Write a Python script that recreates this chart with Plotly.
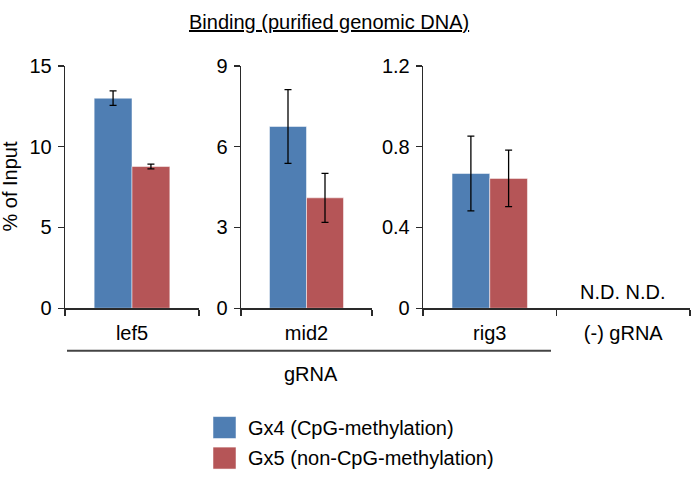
import plotly.graph_objects as go

# ---- data ----
targets = ["lef5", "mid2", "rig3", "(-) gRNA"]
panel_of = [0, 1, 2, 2]
gx4 = [13.0, 6.75, 0.667, None]
gx4_err = [0.45, 1.37, 0.185, None]
gx5 = [8.77, 4.10, 0.643, None]
gx5_err = [0.15, 0.91, 0.14, None]
y_max = [15, 9, 1.2]
y_dtick = [5, 3, 0.4]
series_names = ["Gx4 (CpG-methylation)", "Gx5 (non-CpG-methylation)"]
colors = ["#4f7eb3", "#b55557"]

W, H = 700, 481
FONT = "Liberation Sans, Arial, Helvetica, sans-serif"
AX = "#2a2a2a"

def px(x):
    return x / W

def py(y):
    return 1 - y / H

x_domains = [(65, 199), (241, 372), (423, 690)]
y_dom = [py(311.5), py(57.5)]

fig = go.Figure()
for p in range(3):
    cats = [t for t, q in zip(targets, panel_of) if q == p]
    idx = [i for i, q in enumerate(panel_of) if q == p]
    for s, (vals, errs) in enumerate([(gx4, gx4_err), (gx5, gx5_err)]):
        fig.add_trace(go.Bar(
            x=cats,
            y=[vals[i] for i in idx],
            error_y=dict(type="data", array=[errs[i] for i in idx],
                         color="black", thickness=1.3, width=3.5),
            marker=dict(color=colors[s], line=dict(color="rgba(255,255,255,0.5)", width=1)),
            name=series_names[s],
            showlegend=False,
            hoverinfo="skip",
            xaxis="x" if p == 0 else f"x{p+1}",
            yaxis="y" if p == 0 else f"y{p+1}",
        ))

layout = dict(
    width=W, height=H,
    margin=dict(l=0, r=0, t=0, b=0),
    paper_bgcolor="white", plot_bgcolor="white",
    barmode="group", bargap=0.435, bargroupgap=0,
    font=dict(family=FONT, size=20, color="black"),
    showlegend=False,
)
for p in range(3):
    sfx = "" if p == 0 else str(p + 1)
    cats = [t for t, q in zip(targets, panel_of) if q == p]
    layout["xaxis" + sfx] = dict(
        domain=[px(x_domains[p][0]), px(x_domains[p][1])],
        anchor="y" + sfx,
        type="category", categoryorder="array", categoryarray=cats,
        range=[-0.5, len(cats) - 0.5],
        showline=True, linecolor=AX, linewidth=1.3,
        ticks="outside", tickson="boundaries", ticklen=6, tickwidth=1.3, tickcolor=AX,
        ticklabelstandoff=6,
        showgrid=False, zeroline=False, fixedrange=True,
        tickfont=dict(size=20),
    )
    layout["yaxis" + sfx] = dict(
        domain=y_dom,
        anchor="x" + sfx,
        range=[0, y_max[p]], tick0=0, dtick=y_dtick[p],
        showline=True, linecolor=AX, linewidth=1.3,
        ticks="outside", ticklen=6, tickwidth=1.3, tickcolor=AX,
        ticklabelstandoff=2,
        showgrid=False, zeroline=False, fixedrange=True,
        tickfont=dict(size=20),
    )
fig.update_layout(**layout)

# title
fig.add_annotation(text="<u>Binding (purified genomic DNA)</u>", xref="paper", yref="paper",
                   x=px(329), y=py(12), xanchor="center", yanchor="middle",
                   showarrow=False, font=dict(size=20))
# y-axis title
fig.add_annotation(text="% of Input", xref="paper", yref="paper",
                   x=px(10), y=py(184), xanchor="center", yanchor="middle",
                   textangle=-90, showarrow=False, font=dict(size=20))
# N.D. labels
fig.add_annotation(text="N.D. N.D.", xref="x3", yref="y3", x="(-) gRNA", y=0,
                   xanchor="center", yanchor="bottom", yshift=3,
                   showarrow=False, font=dict(size=20))
# gRNA bracket
fig.add_shape(type="line", xref="paper", yref="paper",
              x0=px(67), x1=px(551), y0=py(356), y1=py(356),
              line=dict(color="#444", width=2))
fig.add_annotation(text="gRNA", xref="paper", yref="paper",
                   x=px(311), y=py(380), xanchor="center", yanchor="middle",
                   showarrow=False, font=dict(size=20))
# legend
for s, (top, bot) in enumerate([(425, 448), (457, 480)]):
    fig.add_shape(type="rect", xref="paper", yref="paper",
                  x0=px(213), x1=px(236), y0=py(bot), y1=py(top),
                  fillcolor=colors[s], line=dict(color="rgba(255,255,255,0.5)", width=1))
    fig.add_annotation(text=series_names[s], xref="paper", yref="paper",
                       x=px(246), y=py((top + bot) / 2), xanchor="left", yanchor="middle",
                       showarrow=False, font=dict(size=20))

fig.write_html("out.html",
               config={"displayModeBar": False, "staticPlot": True},
               post_script="document.body.style.margin='0px';document.body.style.overflow='hidden';")
